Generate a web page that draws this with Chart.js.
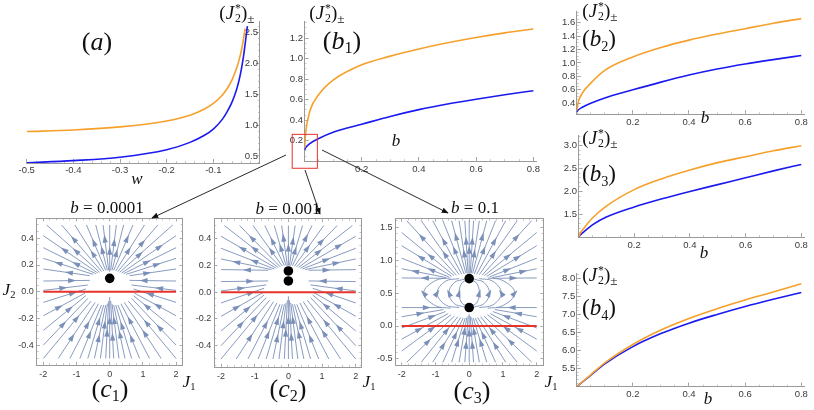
<!DOCTYPE html>
<html lang="en">
<head>
<meta charset="utf-8">
<title>Fixed points and stream plots</title>
<script src="https://cdn.jsdelivr.net/npm/chart.js@4.4.1/dist/chart.umd.min.js"></script>
<style>
  html, body { margin: 0; padding: 0; background: #fff; }
  #fig { position: relative; width: 814px; height: 410px; overflow: hidden; background: #fff; }
  #fig canvas, #fig svg { position: absolute; left: 0; top: 0; }
  .t { position: absolute; transform: translate(-50%, -50%); font-family: "Liberation Serif", "DejaVu Serif", serif; color: #111; white-space: nowrap; line-height: 1; }
  .panel { font-size: 26px; }
  .panel.small { font-size: 23px; }
  .var { font-size: 17px; }
  .jl { font-size: 19px; }
  .sb { font-size: 0.62em; vertical-align: -0.3em; }
  .ss { display: inline-block; vertical-align: -0.28em; font-size: 0.62em; line-height: 0.9; margin-left: 1px; }
  .ss span { display: block; }
  .pm { font-size: 0.7em; vertical-align: -0.35em; }
</style>
</head>
<body>
<div id="fig">
  <canvas id="cA" width="814" height="410"></canvas>
  <canvas id="cB1" width="814" height="410"></canvas>
  <canvas id="cB2" width="814" height="410"></canvas>
  <canvas id="cB3" width="814" height="410"></canvas>
  <canvas id="cB4" width="814" height="410"></canvas>
  <canvas id="cC1" width="814" height="410"></canvas>
  <canvas id="cC2" width="814" height="410"></canvas>
  <canvas id="cC3" width="814" height="410"></canvas>

  <svg width="814" height="410" viewBox="0 0 814 410">
    <defs>
      <marker id="ah" viewBox="0 0 10 10" refX="9" refY="5" markerWidth="7" markerHeight="7" markerUnits="userSpaceOnUse" orient="auto">
        <path d="M0,1 L10,5 L0,9 z" fill="#111"></path>
      </marker>
    </defs>
    <g stroke="#111" stroke-width="0.9" fill="none">
      <line x1="286" y1="155" x2="152" y2="218" marker-end="url(#ah)"></line>
      <line x1="305" y1="170" x2="320" y2="214" marker-end="url(#ah)"></line>
      <line x1="322" y1="150" x2="448" y2="213" marker-end="url(#ah)"></line>
    </g>
  </svg>

  <div class="t panel" style="left:97px;top:42px">(<i>a</i>)</div>
  <div class="t panel" style="left:342px;top:42px">(<i>b</i><span class="sb">1</span>)</div>
  <div class="t panel small" style="left:599px;top:40px">(<i>b</i><span class="sb">2</span>)</div>
  <div class="t panel small" style="left:599px;top:175px">(<i>b</i><span class="sb">3</span>)</div>
  <div class="t panel small" style="left:599px;top:309px">(<i>b</i><span class="sb">4</span>)</div>
  <div class="t panel" style="left:110px;top:390px">(<i>c</i><span class="sb">1</span>)</div>
  <div class="t panel" style="left:288px;top:390px">(<i>c</i><span class="sb">2</span>)</div>
  <div class="t panel" style="left:472px;top:392px">(<i>c</i><span class="sb">3</span>)</div>

  <div class="t jl" style="left:237px;top:14px">(<i>J</i><span class="ss"><span>*</span><span>2</span></span>)<span class="pm">±</span></div>
  <div class="t jl" style="left:327px;top:14px">(<i>J</i><span class="ss"><span>*</span><span>2</span></span>)<span class="pm">±</span></div>
  <div class="t jl" style="left:600px;top:12px">(<i>J</i><span class="ss"><span>*</span><span>2</span></span>)<span class="pm">±</span></div>
  <div class="t jl" style="left:600px;top:139px">(<i>J</i><span class="ss"><span>*</span><span>2</span></span>)<span class="pm">±</span></div>
  <div class="t jl" style="left:600px;top:276px">(<i>J</i><span class="ss"><span>*</span><span>2</span></span>)<span class="pm">±</span></div>

  <div class="t var" style="left:137px;top:178px"><i>w</i></div>
  <div class="t var" style="left:396px;top:140px"><i>b</i></div>
  <div class="t var" style="left:705px;top:117px"><i>b</i></div>
  <div class="t var" style="left:704px;top:252px"><i>b</i></div>
  <div class="t var" style="left:708px;top:398px"><i>b</i></div>

  <div class="t var" style="left:107px;top:207px"><i>b</i> = 0.0001</div>
  <div class="t var" style="left:288px;top:208px"><i>b</i> = 0.001</div>
  <div class="t var" style="left:475px;top:207px"><i>b</i> = 0.1</div>

  <div class="t var" style="left:9px;top:291px"><i>J</i><span class="sb">2</span></div>
  <div class="t var" style="left:189px;top:383px"><i>J</i><span class="sb">1</span></div>
  <div class="t var" style="left:369px;top:383px"><i>J</i><span class="sb">1</span></div>
  <div class="t var" style="left:551px;top:383px"><i>J</i><span class="sb">1</span></div>
</div>

<script>
"use strict";

const ORANGE = "#f6a02c";
const BLUE = "#1a1af0";
const STREAM = "#7b90b8";
const RED = "#e8332b";
const AXIS = "#9a9a9a";
const MINOR = "#b8b8b8";
const TICK_TEXT = "#3a3a3a";
const SANS = "'Liberation Sans', Arial, sans-serif";

// (a) fixed points vs w
const A_W_ORANGE = [-0.5, -0.4, -0.3, -0.2, -0.15, -0.12, -0.1, -0.08, -0.07, -0.06, -0.05, -0.045, -0.04, -0.035, -0.032];
const A_ORANGE = [0.895, 0.92, 0.97, 1.066, 1.16, 1.255, 1.35, 1.49, 1.594, 1.73, 1.92, 2.045, 2.2, 2.41, 2.56];
const A_W_BLUE = [-0.5, -0.4, -0.3, -0.2, -0.15, -0.12, -0.1, -0.08, -0.07, -0.06, -0.05, -0.045, -0.04, -0.035, -0.031, -0.027];
const A_BLUE = [0.39, 0.425, 0.48, 0.6, 0.72, 0.83, 0.935, 1.1, 1.22, 1.37, 1.58, 1.72, 1.9, 2.13, 2.36, 2.6];
const A_X_TICKS = [-0.5, -0.4, -0.3, -0.2, -0.1];
const A_Y_TICKS = [0.5, 1.0, 1.5, 2.0, 2.5];

// (b1)-(b4) fixed points vs b
const B_VALUES = [0, 0.005, 0.02, 0.05, 0.1, 0.2, 0.3, 0.4, 0.5, 0.6, 0.7, 0.8];
const B1_ORANGE = [0.13, 0.3, 0.5, 0.65, 0.79, 0.94, 1.025, 1.095, 1.155, 1.207, 1.252, 1.29];
const B1_BLUE = [0.11, 0.135, 0.175, 0.222, 0.283, 0.36, 0.437, 0.503, 0.558, 0.605, 0.648, 0.688];
const B2_ORANGE = [0.29, 0.41, 0.55, 0.7, 0.89, 1.09, 1.23, 1.34, 1.43, 1.51, 1.59, 1.66];
const B2_BLUE = [0.27, 0.3, 0.34, 0.4, 0.48, 0.6, 0.715, 0.82, 0.91, 0.985, 1.05, 1.11];
const B3_ORANGE = [1.0, 1.07, 1.2, 1.42, 1.68, 2.04, 2.28, 2.47, 2.63, 2.76, 2.89, 3.0];
const B3_BLUE = [1.0, 1.04, 1.12, 1.27, 1.44, 1.66, 1.84, 2.0, 2.15, 2.3, 2.45, 2.59];
const B4_ORANGE = [5.0, 5.033, 5.132, 5.33, 5.66, 6.17, 6.57, 6.89, 7.16, 7.4, 7.62, 7.85];
const B4_BLUE = [5.0, 5.032, 5.126, 5.315, 5.63, 6.11, 6.47, 6.76, 7.0, 7.22, 7.42, 7.61];
const B_X_TICKS = [0.2, 0.4, 0.6, 0.8];
const B1_Y_TICKS = [0.2, 0.4, 0.6, 0.8, 1.0, 1.2];
const B2_Y_TICKS = [0.4, 0.6, 0.8, 1.0, 1.2, 1.4, 1.6];
const B3_Y_TICKS = [1.5, 2.0, 2.5, 3.0];
const B4_Y_TICKS = [5.5, 6.0, 6.5, 7.0, 7.5, 8.0];
// red box around the origin of (b1), in (b, J2) units
const ZOOM_BOX_B = [-0.043, 0.045];
const ZOOM_BOX_J = [-0.069, 0.262];

// (c1)-(c3) stream plots in the (J1, J2) plane
const C_X_TICKS = [-2, -1, 0, 1, 2];
const C12_Y_TICKS = [-0.4, -0.2, 0.0, 0.2, 0.4];
const C3_Y_TICKS = [-0.5, 0.0, 0.5, 1.0, 1.5];
const C_RED_J1 = [-2, 2];
const C1_FIXED = [[0, 0.1]];
const C2_FIXED = [[0, 0.16], [0, 0.085]];
const C3_FIXED = [[0, 0.72], [0, 0.28]];

const C1_STREAMS = [
  [[0, 0.15], [0, 0.5]],
  [[0.03, 0.16], [0.2, 0.5]], [[0.07, 0.16], [0.42, 0.5]], [[0.12, 0.16], [0.7, 0.5]],
  [[0.18, 0.155], [1.05, 0.5]], [[0.24, 0.15], [1.45, 0.5]], [[0.3, 0.145], [1.9, 0.5]],
  [[0.36, 0.14], [2, 0.42]], [[0.42, 0.135], [2, 0.33]], [[0.5, 0.13], [2, 0.25]], [[0.6, 0.12], [2, 0.17]],
  [[-0.03, 0.16], [-0.2, 0.5]], [[-0.07, 0.16], [-0.42, 0.5]], [[-0.12, 0.16], [-0.7, 0.5]],
  [[-0.18, 0.155], [-1.05, 0.5]], [[-0.24, 0.15], [-1.45, 0.5]], [[-0.3, 0.145], [-1.9, 0.5]],
  [[-0.36, 0.14], [-2, 0.42]], [[-0.42, 0.135], [-2, 0.33]], [[-0.5, 0.13], [-2, 0.25]], [[-0.6, 0.12], [-2, 0.17]],
  [[0, -0.5], [0, -0.04]],
  [[0.12, -0.5], [0.03, -0.07]], [[0.28, -0.5], [0.07, -0.09]], [[0.46, -0.5], [0.12, -0.1]],
  [[0.66, -0.5], [0.18, -0.1]], [[0.9, -0.5], [0.25, -0.1]], [[1.2, -0.5], [0.34, -0.09]],
  [[1.55, -0.5], [0.44, -0.08]], [[2, -0.5], [0.56, -0.07]], [[2, -0.4], [0.66, -0.05]],
  [[2, -0.29], [0.72, -0.03]], [[2, -0.18], [0.74, -0.01]], [[2, -0.08], [0.72, 0.02]],
  [[2, 0.01], [0.66, 0.05]], [[2, 0.08], [0.6, 0.085]],
  [[-0.12, -0.5], [-0.03, -0.07]], [[-0.28, -0.5], [-0.07, -0.09]], [[-0.46, -0.5], [-0.12, -0.1]],
  [[-0.66, -0.5], [-0.18, -0.1]], [[-0.9, -0.5], [-0.25, -0.1]], [[-1.2, -0.5], [-0.34, -0.09]],
  [[-1.55, -0.5], [-0.44, -0.08]], [[-2, -0.5], [-0.56, -0.07]], [[-2, -0.4], [-0.66, -0.05]],
  [[-2, -0.29], [-0.72, -0.03]], [[-2, -0.18], [-0.74, -0.01]], [[-2, -0.08], [-0.72, 0.02]],
  [[-2, 0.01], [-0.66, 0.05]], [[-2, 0.08], [-0.6, 0.085]]
];

const C2_STREAMS = [
  [[0, 0.2], [0, 0.5]],
  [[0.03, 0.2], [0.2, 0.5]], [[0.07, 0.2], [0.42, 0.5]], [[0.12, 0.2], [0.7, 0.5]],
  [[0.18, 0.195], [1.05, 0.5]], [[0.24, 0.19], [1.45, 0.5]], [[0.3, 0.185], [1.9, 0.5]],
  [[0.36, 0.18], [2, 0.42]], [[0.42, 0.175], [2, 0.33]], [[0.5, 0.17], [2, 0.25]], [[0.6, 0.165], [2, 0.17]],
  [[-0.03, 0.2], [-0.2, 0.5]], [[-0.07, 0.2], [-0.42, 0.5]], [[-0.12, 0.2], [-0.7, 0.5]],
  [[-0.18, 0.195], [-1.05, 0.5]], [[-0.24, 0.19], [-1.45, 0.5]], [[-0.3, 0.185], [-1.9, 0.5]],
  [[-0.36, 0.18], [-2, 0.42]], [[-0.42, 0.175], [-2, 0.33]], [[-0.5, 0.17], [-2, 0.25]], [[-0.6, 0.165], [-2, 0.17]],
  [[0, -0.5], [0, -0.03]],
  [[0.12, -0.5], [0.03, -0.06]], [[0.28, -0.5], [0.07, -0.08]], [[0.46, -0.5], [0.12, -0.09]],
  [[0.66, -0.5], [0.18, -0.09]], [[0.9, -0.5], [0.25, -0.09]], [[1.2, -0.5], [0.34, -0.08]],
  [[1.55, -0.5], [0.44, -0.07]], [[2, -0.5], [0.56, -0.06]], [[2, -0.4], [0.66, -0.04]],
  [[2, -0.29], [0.72, -0.02]], [[2, -0.18], [0.74, 0.0]], [[2, -0.08], [0.72, 0.03]],
  [[2, 0.01], [0.66, 0.055]], [[2, 0.08], [0.6, 0.085]],
  [[-0.12, -0.5], [-0.03, -0.06]], [[-0.28, -0.5], [-0.07, -0.08]], [[-0.46, -0.5], [-0.12, -0.09]],
  [[-0.66, -0.5], [-0.18, -0.09]], [[-0.9, -0.5], [-0.25, -0.09]], [[-1.2, -0.5], [-0.34, -0.08]],
  [[-1.55, -0.5], [-0.44, -0.07]], [[-2, -0.5], [-0.56, -0.06]], [[-2, -0.4], [-0.66, -0.04]],
  [[-2, -0.29], [-0.72, -0.02]], [[-2, -0.18], [-0.74, 0.0]], [[-2, -0.08], [-0.72, 0.03]],
  [[-2, 0.01], [-0.66, 0.055]], [[-2, 0.08], [-0.6, 0.085]]
];

const C3_STREAMS = [
  [[0, 0.8], [0, 1.6]],
  [[0.03, 0.8], [0.13, 1.6]], [[0.06, 0.8], [0.3, 1.6]], [[0.1, 0.8], [0.52, 1.6]],
  [[0.15, 0.79], [0.78, 1.6]], [[0.22, 0.785], [1.08, 1.6]], [[0.3, 0.78], [1.42, 1.6]],
  [[0.38, 0.77], [1.85, 1.6]], [[0.45, 0.765], [2, 1.42]], [[0.52, 0.755], [2, 1.22]],
  [[0.6, 0.745], [2, 1.03]], [[0.68, 0.735], [2, 0.87]], [[0.75, 0.725], [2, 0.73]],
  [[-0.03, 0.8], [-0.13, 1.6]], [[-0.06, 0.8], [-0.3, 1.6]], [[-0.1, 0.8], [-0.52, 1.6]],
  [[-0.15, 0.79], [-0.78, 1.6]], [[-0.22, 0.785], [-1.08, 1.6]], [[-0.3, 0.78], [-1.42, 1.6]],
  [[-0.38, 0.77], [-1.85, 1.6]], [[-0.45, 0.765], [-2, 1.42]], [[-0.52, 0.755], [-2, 1.22]],
  [[-0.6, 0.745], [-2, 1.03]], [[-0.68, 0.735], [-2, 0.87]], [[-0.75, 0.725], [-2, 0.73]],
  [[0, -0.55], [0, 0.18]],
  [[0.13, -0.55], [0.03, 0.15]], [[0.3, -0.55], [0.07, 0.13]], [[0.52, -0.55], [0.12, 0.12]],
  [[0.78, -0.55], [0.18, 0.12]], [[1.08, -0.55], [0.25, 0.13]], [[1.42, -0.55], [0.34, 0.14]],
  [[1.85, -0.55], [0.44, 0.15]], [[2, -0.38], [0.54, 0.17]], [[2, -0.2], [0.62, 0.19]],
  [[2, -0.03], [0.7, 0.22]], [[2, 0.14], [0.76, 0.25]], [[2, 0.28], [0.8, 0.28]],
  [[-0.13, -0.55], [-0.03, 0.15]], [[-0.3, -0.55], [-0.07, 0.13]], [[-0.52, -0.55], [-0.12, 0.12]],
  [[-0.78, -0.55], [-0.18, 0.12]], [[-1.08, -0.55], [-0.25, 0.13]], [[-1.42, -0.55], [-0.34, 0.14]],
  [[-1.85, -0.55], [-0.44, 0.15]], [[-2, -0.38], [-0.54, 0.17]], [[-2, -0.2], [-0.62, 0.19]],
  [[-2, -0.03], [-0.7, 0.22]], [[-2, 0.14], [-0.76, 0.25]], [[-2, 0.28], [-0.8, 0.28]]
];
// closed orbits between the two fixed points of (c3)
const C3_LOOPS = [
  [[0.05, 0.3], [0.22, 0.35], [0.3, 0.5], [0.22, 0.65], [0.05, 0.7]],
  [[0.15, 0.29], [0.44, 0.34], [0.6, 0.5], [0.44, 0.66], [0.15, 0.71]],
  [[0.3, 0.28], [0.7, 0.32], [0.95, 0.5], [0.7, 0.68], [0.3, 0.72]],
  [[0.55, 0.27], [1.0, 0.31], [1.35, 0.5], [1.0, 0.69], [0.55, 0.73]],
  [[-0.05, 0.3], [-0.22, 0.35], [-0.3, 0.5], [-0.22, 0.65], [-0.05, 0.7]],
  [[-0.15, 0.29], [-0.44, 0.34], [-0.6, 0.5], [-0.44, 0.66], [-0.15, 0.71]],
  [[-0.3, 0.28], [-0.7, 0.32], [-0.95, 0.5], [-0.7, 0.68], [-0.3, 0.72]],
  [[-0.55, 0.27], [-1.0, 0.31], [-1.35, 0.5], [-1.0, 0.69], [-0.55, 0.73]]
];

// plot areas in page pixels, and the box sizes of labelled axes
const AREA_A = { l: 26.7, r: 260, t: 21.7, b: 163.1 };
const AREA_B1 = { l: 304.5, r: 536.2, t: 21.8, b: 161.2 };
const AREA_B2 = { l: 576.7, r: 808.6, t: 1.8, b: 114.3 };
const AREA_B3 = { l: 578.5, r: 809.4, t: 135.2, b: 237.2 };
const AREA_B4 = { l: 576.7, r: 808.6, t: 273.3, b: 386.7 };
const AREA_C1 = { l: 36.7, r: 182.7, t: 218.3, b: 365.1 };
const AREA_C2 = { l: 214.3, r: 361.5, t: 218.9, b: 367 };
const AREA_C3 = { l: 395.6, r: 543.5, t: 218.7, b: 365.5 };
const LABEL_BOX_V = 28;
const LABEL_BOX_H = 14;

function padFor(area, leftBox, bottomBox) {
  return { left: area.l - leftBox, top: area.t, right: 814 - area.r, bottom: 410 - area.b - bottomBox };
}

function toPoints(xs, ys) {
  return xs.map((x, i) => ({ x, y: ys[i] }));
}

function pairsToPoints(pairs) {
  return pairs.map(([x, y]) => ({ x, y }));
}

function stepValues(min, max, step) {
  const out = [];
  const start = Math.ceil(min / step - 1e-9);
  for (let k = start; k * step <= max + 1e-9; k++) out.push(+(k * step).toFixed(6));
  return out;
}

// a labelled major axis plus a twin carrying the short minor ticks
function makeAxes(id, cfg) {
  const horizontal = cfg.position === "top" || cfg.position === "bottom";
  const box = cfg.box || 0;
  const shared = {
    type: "linear",
    axis: horizontal ? "x" : "y",
    position: cfg.position,
    min: cfg.min,
    max: cfg.max,
    bounds: "data"
  };
  const major = {
    ...shared,
    weight: 1,
    afterFit: (scale) => {
      if (horizontal) scale.height = box;
      else scale.width = box;
    },
    afterBuildTicks: (scale) => {
      scale.ticks = cfg.labels.map((value) => ({ value }));
    },
    ticks: {
      display: cfg.showLabels !== false,
      autoSkip: false,
      maxRotation: 0,
      mirror: !!cfg.mirror,
      padding: cfg.padding,
      color: TICK_TEXT,
      font: { family: SANS, size: cfg.fontSize || 9.5 },
      callback: (value) => Number(value).toFixed(cfg.decimals)
    },
    grid: { drawOnChartArea: false, tickLength: cfg.tick || -4, tickColor: AXIS, tickWidth: 1 },
    border: { display: true, color: AXIS, width: 1 }
  };
  const minorValues = stepValues(cfg.min, cfg.max, cfg.minorStep);
  const minor = {
    ...shared,
    weight: 0,
    afterFit: (scale) => {
      if (horizontal) scale.height = 0;
      else scale.width = 0;
    },
    afterBuildTicks: (scale) => {
      scale.ticks = minorValues.map((value) => ({ value }));
    },
    ticks: { display: false },
    grid: { drawOnChartArea: false, tickLength: -2, tickColor: MINOR, tickWidth: 0.8 },
    border: { display: false }
  };
  return { [id]: major, [id + "_minor"]: minor };
}

function baseOptions(padding, scales) {
  return {
    responsive: false,
    animation: false,
    events: [],
    layout: { autoPadding: false, padding },
    plugins: { legend: { display: false }, tooltip: { enabled: false } },
    scales
  };
}

function curve(data, color) {
  return {
    data,
    xAxisID: "x",
    yAxisID: "y",
    borderColor: color,
    borderWidth: 1.6,
    pointRadius: 0,
    cubicInterpolationMode: "monotone",
    fill: false
  };
}

function curveChart(canvasId, area, xCfg, yCfg, datasets, plugins) {
  const leftBox = yCfg.position === "left" ? yCfg.box : 0;
  return new Chart(document.getElementById(canvasId), {
    type: "line",
    data: { datasets },
    options: baseOptions(padFor(area, leftBox, xCfg.box), { ...makeAxes("x", xCfg), ...makeAxes("y", yCfg) }),
    plugins: plugins || []
  });
}

// arrowheads along stream lines, drawn right after each line
const streamArrows = {
  id: "streamArrows",
  afterDatasetDraw(chart, args) {
    const ds = chart.data.datasets[args.index];
    if (!ds.arrow) return;
    const pts = args.meta.data.map((p) => [p.x, p.y]);
    if (pts.length < 2) return;
    const seg = [];
    let total = 0;
    for (let i = 1; i < pts.length; i++) {
      const len = Math.hypot(pts[i][0] - pts[i - 1][0], pts[i][1] - pts[i - 1][1]);
      seg.push(len);
      total += len;
    }
    let rest = total * (ds.arrowAt || 0.55);
    let i = 0;
    while (i < seg.length - 1 && rest > seg[i]) {
      rest -= seg[i];
      i++;
    }
    const [x0, y0] = pts[i];
    const [x1, y1] = pts[i + 1];
    const t = seg[i] ? rest / seg[i] : 0;
    const { ctx, chartArea } = chart;
    ctx.save();
    ctx.beginPath();
    ctx.rect(chartArea.left, chartArea.top, chartArea.right - chartArea.left, chartArea.bottom - chartArea.top);
    ctx.clip();
    ctx.translate(x0 + (x1 - x0) * t, y0 + (y1 - y0) * t);
    ctx.rotate(Math.atan2(y1 - y0, x1 - x0));
    ctx.beginPath();
    ctx.moveTo(4, 0);
    ctx.lineTo(-4, -2.6);
    ctx.lineTo(-4, 2.6);
    ctx.closePath();
    ctx.fillStyle = STREAM;
    ctx.fill();
    ctx.restore();
  }
};

const zoomBox = {
  id: "zoomBox",
  afterDraw(chart) {
    const { x, y } = chart.scales;
    const left = x.getPixelForValue(ZOOM_BOX_B[0]);
    const right = x.getPixelForValue(ZOOM_BOX_B[1]);
    const top = y.getPixelForValue(ZOOM_BOX_J[1]);
    const bottom = y.getPixelForValue(ZOOM_BOX_J[0]);
    const ctx = chart.ctx;
    ctx.save();
    ctx.strokeStyle = RED;
    ctx.lineWidth = 1;
    ctx.strokeRect(left, top, right - left, bottom - top);
    ctx.restore();
  }
};

const ARROW_SPOTS = [0.45, 0.62, 0.38, 0.7];

function streamChart(canvasId, area, xMin, xMax, yCfg, streams, loops, fixed) {
  const xCfg = {
    position: "bottom", min: xMin, max: xMax, labels: C_X_TICKS, decimals: 0,
    minorStep: 0.2, tick: -3, padding: 7, fontSize: 9, box: LABEL_BOX_H
  };
  const scales = {
    ...makeAxes("x", xCfg),
    ...makeAxes("y", yCfg),
    ...makeAxes("xt", { ...xCfg, position: "top", showLabels: false, box: 0 }),
    ...makeAxes("yr", { ...yCfg, position: "right", showLabels: false, box: 0 })
  };
  const datasets = [
    {
      data: pairsToPoints(fixed), xAxisID: "x", yAxisID: "y", showLine: false,
      pointRadius: 4.8, pointBackgroundColor: "#000", pointBorderWidth: 0, order: 0
    },
    {
      data: C_RED_J1.map((x) => ({ x, y: 0 })), xAxisID: "x", yAxisID: "y",
      borderColor: RED, borderWidth: 2, pointRadius: 0, order: 1
    }
  ];
  streams.forEach((line, i) => {
    datasets.push({
      data: pairsToPoints(line), xAxisID: "x", yAxisID: "y", borderColor: STREAM,
      borderWidth: 0.9, pointRadius: 0, tension: 0, arrow: true,
      arrowAt: ARROW_SPOTS[i % ARROW_SPOTS.length], order: 2
    });
  });
  loops.forEach((line) => {
    datasets.push({
      data: pairsToPoints(line), xAxisID: "x", yAxisID: "y", borderColor: STREAM,
      borderWidth: 0.9, pointRadius: 0, tension: 0.4, arrow: true, arrowAt: 0.5, order: 2
    });
  });
  return new Chart(document.getElementById(canvasId), {
    type: "line",
    data: { datasets },
    options: baseOptions(padFor(area, LABEL_BOX_V, LABEL_BOX_H), scales),
    plugins: [streamArrows]
  });
}

window.addEventListener("DOMContentLoaded", () => {
  // (a)
  curveChart("cA", AREA_A,
    { position: "bottom", min: -0.5, max: 0, labels: A_X_TICKS, decimals: 1, minorStep: 0.02, padding: 6, box: LABEL_BOX_H },
    { position: "right", min: 0.385, max: 2.67, labels: A_Y_TICKS, decimals: 1, minorStep: 0.1, padding: -2, mirror: true, box: 0 },
    [curve(toPoints(A_W_ORANGE, A_ORANGE), ORANGE), curve(toPoints(A_W_BLUE, A_BLUE), BLUE)]);

  // (b1)-(b4)
  const bx = { position: "bottom", min: 0, max: 0.81, labels: B_X_TICKS, decimals: 1, minorStep: 0.05, padding: 6, box: LABEL_BOX_H };
  const by = (min, max, labels, minorStep) => ({
    position: "left", min, max, labels, decimals: 1, minorStep, padding: 5.5, box: LABEL_BOX_V
  });
  curveChart("cB1", AREA_B1, bx, by(0, 1.36, B1_Y_TICKS, 0.05),
    [curve(toPoints(B_VALUES, B1_ORANGE), ORANGE), curve(toPoints(B_VALUES, B1_BLUE), BLUE)],
    [zoomBox]);
  curveChart("cB2", AREA_B2, bx, by(0.236, 1.77, B2_Y_TICKS, 0.05),
    [curve(toPoints(B_VALUES, B2_ORANGE), ORANGE), curve(toPoints(B_VALUES, B2_BLUE), BLUE)]);
  curveChart("cB3", AREA_B3, bx, by(1.0, 3.23, B3_Y_TICKS, 0.1),
    [curve(toPoints(B_VALUES, B3_ORANGE), ORANGE), curve(toPoints(B_VALUES, B3_BLUE), BLUE)]);
  curveChart("cB4", AREA_B4, bx, by(5.0, 8.14, B4_Y_TICKS, 0.1),
    [curve(toPoints(B_VALUES, B4_ORANGE), ORANGE), curve(toPoints(B_VALUES, B4_BLUE), BLUE)]);

  // (c1)-(c3)
  const cy = (min, max, labels, minorStep) => ({
    position: "left", min, max, labels, decimals: 1, minorStep,
    tick: -3, padding: 6, fontSize: 9, box: LABEL_BOX_V
  });
  streamChart("cC1", AREA_C1, -2.2, 2.2, cy(-0.55, 0.55, C12_Y_TICKS, 0.05), C1_STREAMS, [], C1_FIXED);
  streamChart("cC2", AREA_C2, -2.2, 2.17, cy(-0.56, 0.55, C12_Y_TICKS, 0.05), C2_STREAMS, [], C2_FIXED);
  streamChart("cC3", AREA_C3, -2.18, 2.2, cy(-0.6, 1.63, C3_Y_TICKS, 0.1), C3_STREAMS, C3_LOOPS, C3_FIXED);
});
</script>
</body>
</html>
